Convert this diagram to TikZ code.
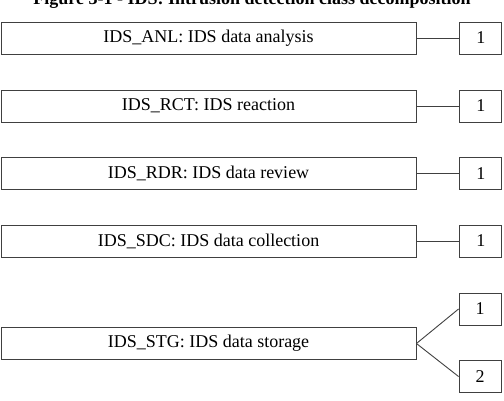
\documentclass[tikz,border=0pt]{standalone}
\usepackage{fontspec}
\setmainfont{Liberation Serif}
\usepackage{tikz}
\usetikzlibrary{positioning}

\begin{document}
\begin{tikzpicture}[x=1pt, y=-1pt,
            classbox/.style={rectangle, draw=black!75, line width=0.9pt, minimum height=32pt, minimum width=415pt,
                             inner sep=0pt, font=\fontsize{18}{20}\selectfont},
            countbox/.style={rectangle, draw=black!75, line width=0.9pt, minimum height=32pt, minimum width=42pt,
                             inner sep=0pt, font=\fontsize{18}{20}\selectfont},
            link/.style={draw=black!75, line width=0.9pt},
            node distance=43pt
        ]
            \useasboundingbox (0,0) rectangle (504,400);

            % Title (cut at the top)
            \node[anchor=base, inner sep=0pt, font=\fontsize{18}{20}\selectfont\bfseries] (title) at (252,4.5)
                {Figure 3-1 - IDS: Intrusion detection class decomposition};

            % Classes
            \node[classbox] (anl) at (208.5,38) {IDS\_ANL: IDS data analysis};
            \node[classbox] (rct) at (208.5,106) {IDS\_RCT: IDS reaction};
            \node[classbox] (rdr) at (208.5,173.5) {IDS\_RDR: IDS data review};
            \node[classbox] (sdc) at (208.5,241) {IDS\_SDC: IDS data collection};
            \node[classbox] (stg) at (208.5,343.5) {IDS\_STG: IDS data storage};

            % Components
            \node[countbox, right=of anl] (anl1) {1};
            \node[countbox, right=of rct] (rct1) {1};
            \node[countbox, right=of rdr] (rdr1) {1};
            \node[countbox, right=of sdc] (sdc1) {1};
            \node[countbox] (stg1) at (480,309) {1};
            \node[countbox] (stg2) at (480,376.5) {2};

            % Links
            \draw[link] (anl.east) -- (anl1.west);
            \draw[link] (rct.east) -- (rct1.west);
            \draw[link] (rdr.east) -- (rdr1.west);
            \draw[link] (sdc.east) -- (sdc1.west);
            \draw[link] (stg.east) -- (stg1.west);
            \draw[link] (stg.east) -- (stg2.west);

        \end{tikzpicture}
\end{document}
